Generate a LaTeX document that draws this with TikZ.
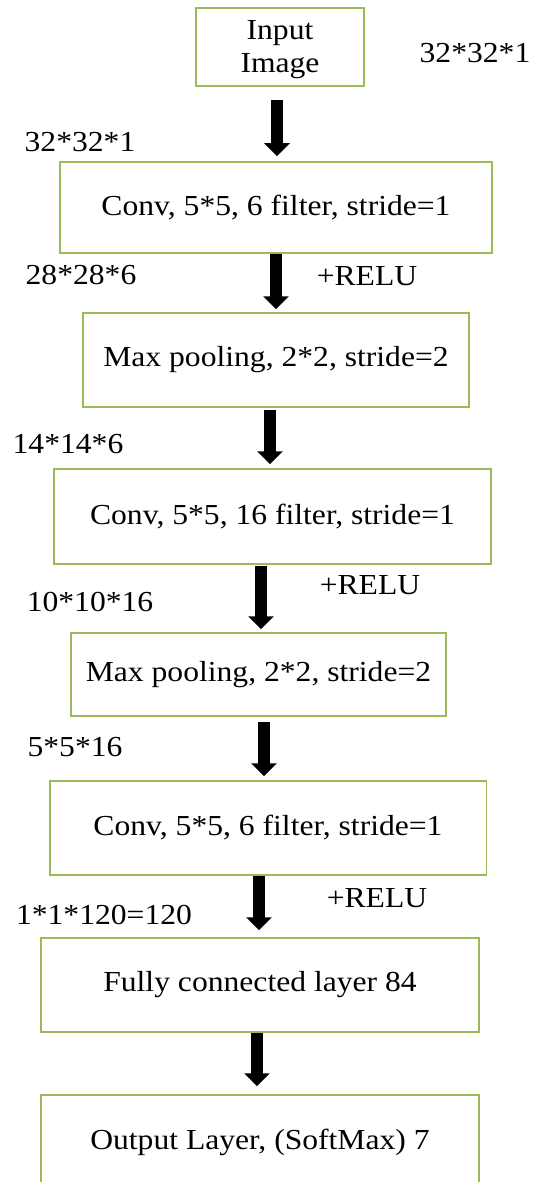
\documentclass[tikz,border=0pt]{standalone}
\usepackage{fontspec}
\setmainfont{Liberation Serif}[FakeStretch=1.09]
\usetikzlibrary{arrows.meta}
\definecolor{boxgreen}{HTML}{9BBB59}
\tikzset{
  layerbox/.style={draw=boxgreen, line width=1.5pt, fill=white, inner sep=0pt,
    font=\fontsize{29}{33}\selectfont, align=center},
  dimlabel/.style={inner sep=0pt, font=\fontsize{29}{33}\selectfont},
  bigarrow/.style={line width=12pt, draw=black,
    -{Triangle[width=25pt,length=13pt]}}
}
\begin{document}
\begin{tikzpicture}[x=1pt,y=-1pt]
\clip (0,0) rectangle (534,1182);
\fill[white] (0,0) rectangle (534,1182);

\node[layerbox, minimum width=168pt, minimum height=78pt, text depth=-5pt] (input) at (280,47) {Input\\Image};
\node[layerbox, minimum width=432pt, minimum height=91pt] (conv1) at (276,207.5) {Conv, 5*5, 6 filter, stride=1};
\node[layerbox, minimum width=386pt, minimum height=94pt] (mp1) at (276,360) {Max pooling, 2*2, stride=2};
\node[layerbox, minimum width=437pt, minimum height=95pt] (conv2) at (272.5,516.5) {Conv, 5*5, 16 filter, stride=1};
\node[layerbox, minimum width=375pt, minimum height=83pt] (mp2) at (258.5,674.5) {Max pooling, 2*2, stride=2};
\node[layerbox, minimum width=436.5pt, minimum height=94pt] (conv3) at (268,828) {Conv, 5*5, 6 filter, stride=1};
\node[layerbox, minimum width=438pt, minimum height=94pt] (fc) at (260,985) {Fully connected layer 84};
\node[layerbox, minimum width=438pt, minimum height=94pt] (out) at (260,1142) {Output Layer, (SoftMax) 7};

\node[dimlabel] (l0) at (475,53) {32*32*1};
\node[dimlabel] (l1) at (80,142) {32*32*1};
\node[dimlabel] (l2) at (81,275) {28*28*6};
\node[dimlabel] (r1) at (367,276) {+RELU};
\node[dimlabel] (l3) at (68,444) {14*14*6};
\node[dimlabel] (r2) at (370,585) {+RELU};
\node[dimlabel] (l4) at (90,602) {10*10*16};
\node[dimlabel] (l5) at (75,747) {5*5*16};
\node[dimlabel] (r3) at (377,898) {+RELU};
\node[dimlabel] (l6) at (104,915) {1*1*120=120};

\draw[bigarrow] ([xshift=-3pt,yshift=-13pt]input.south) -- ([xshift=1pt,yshift=5pt]conv1.north);
\draw[bigarrow] (conv1.south) -- ([yshift=3pt]mp1.north);
\draw[bigarrow] ([xshift=-6pt,yshift=-2pt]mp1.south) -- ([xshift=-2.5pt,yshift=4pt]conv2.north);
\draw[bigarrow] ([xshift=-11.5pt,yshift=-1pt]conv2.south) -- ([xshift=2.5pt,yshift=3pt]mp2.north);
\draw[bigarrow] ([xshift=5.5pt,yshift=-5pt]mp2.south) -- ([xshift=-4pt,yshift=4pt]conv3.north);
\draw[bigarrow] ([xshift=-9pt]conv3.south) -- ([xshift=-1pt,yshift=7pt]fc.north);
\draw[bigarrow] ([xshift=-3pt]fc.south) -- ([xshift=-3pt,yshift=8pt]out.north);
\end{tikzpicture}
\end{document}
